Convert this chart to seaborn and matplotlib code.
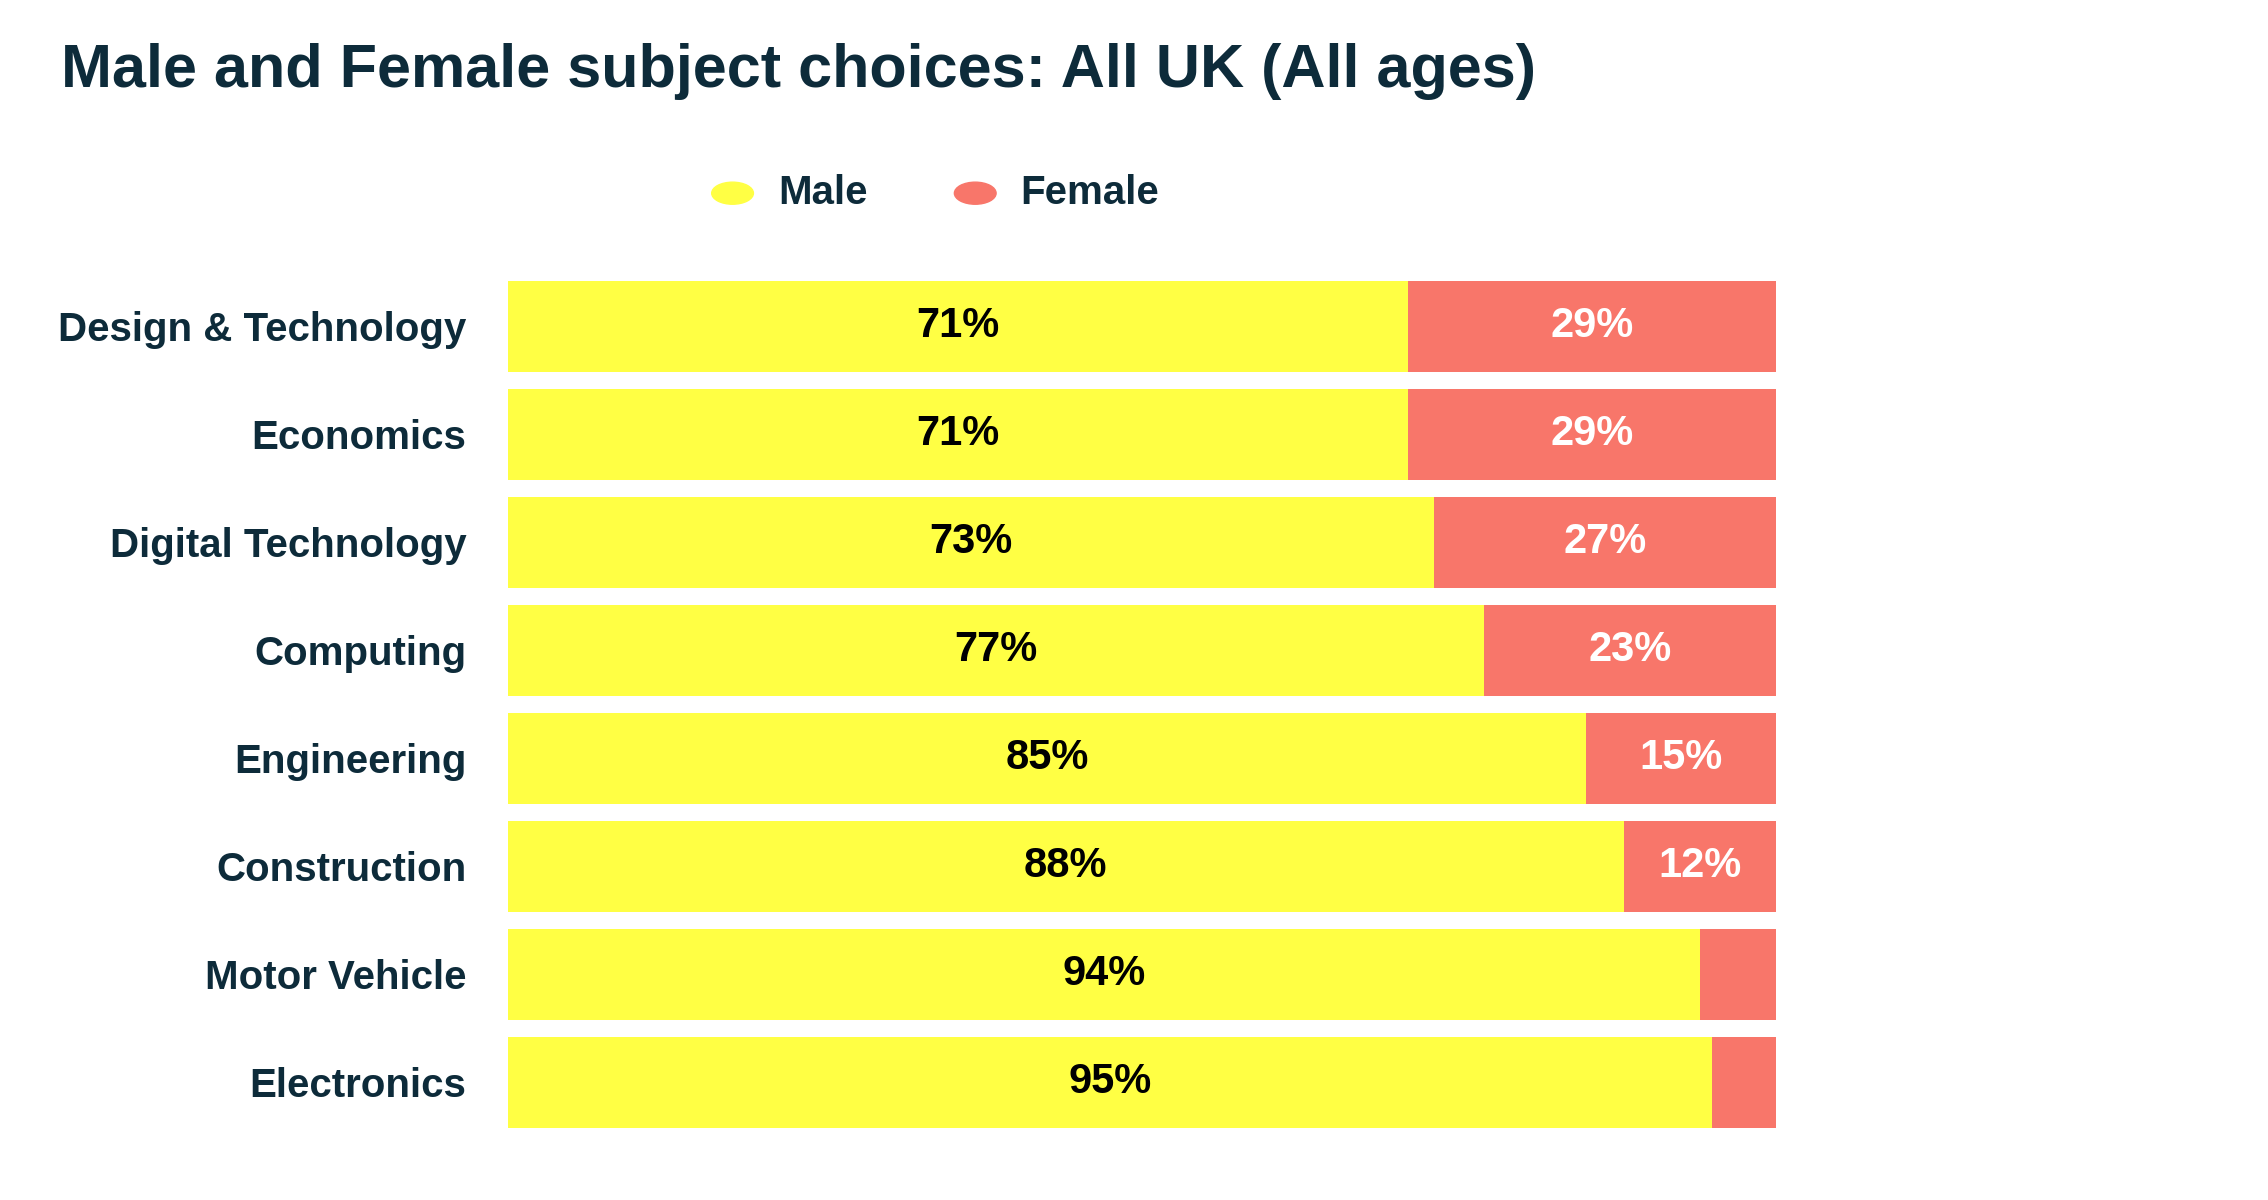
import matplotlib
matplotlib.use("Agg")
import matplotlib.pyplot as plt
import seaborn as sns
import pandas as pd

subjects = ["Design & Technology", "Economics", "Digital Technology", "Computing",
            "Engineering", "Construction", "Motor Vehicle", "Electronics"]
male = [71, 71, 73, 77, 85, 88, 94, 95]
female = [29, 29, 27, 23, 15, 12, 6, 5]

YELLOW = "#FFFF44"
SALMON = "#F8766A"
DARK = "#0D2B3A"

sns.set_theme(style="white")
plt.rcParams["font.family"] = ["Liberation Sans Narrow", "Liberation Sans", "DejaVu Sans"]
plt.rcParams["font.weight"] = "bold"

df = pd.DataFrame({"subject": subjects, "male": male, "female": female})
df["total"] = df["male"] + df["female"]

fig = plt.figure(figsize=(22.68, 12), dpi=100)
ax = fig.add_axes([0.224, 0.053, 0.559, 0.72])

sns.barplot(data=df, y="subject", x="total", color=SALMON, width=0.84,
            saturation=1, ax=ax, orient="h")
sns.barplot(data=df, y="subject", x="male", color=YELLOW, width=0.84,
            saturation=1, ax=ax, orient="h")
for p in ax.patches:
    p.set_linewidth(0)

for i, (m, f) in enumerate(zip(male, female)):
    ax.text(m / 2, i, f"{m}%", ha="center", va="center", fontsize=30,
            fontweight="bold", color="black")
    if f >= 10:
        ax.text(m + f / 2, i, f"{f}%", ha="center", va="center", fontsize=30,
                fontweight="bold", color="white")

ax.set_xlim(0, 100)
ax.set_ylim(7.5, -0.5)
ax.set_xlabel("")
ax.set_ylabel("")
ax.set_xticks([])
ax.tick_params(axis="y", length=0, pad=30, labelsize=29, labelcolor=DARK)
for lab in ax.get_yticklabels():
    lab.set_fontweight("bold")
sns.despine(ax=ax, left=True, bottom=True)

fig.text(0.027, 0.94, "Male and Female subject choices: All UK (All ages)",
         fontsize=44, fontweight="bold", color=DARK, va="center")

for x, lbl, c in [(0.323, "Male", YELLOW), (0.43, "Female", SALMON)]:
    fig.patches.append(plt.Circle((x, 0.839), 0.0092, transform=fig.transFigure,
                                  color=c, figure=fig))
    fig.text(x + 0.02, 0.839, lbl, fontsize=29, fontweight="bold", color=DARK,
             va="center")

fig.savefig("out.png", dpi=100)
